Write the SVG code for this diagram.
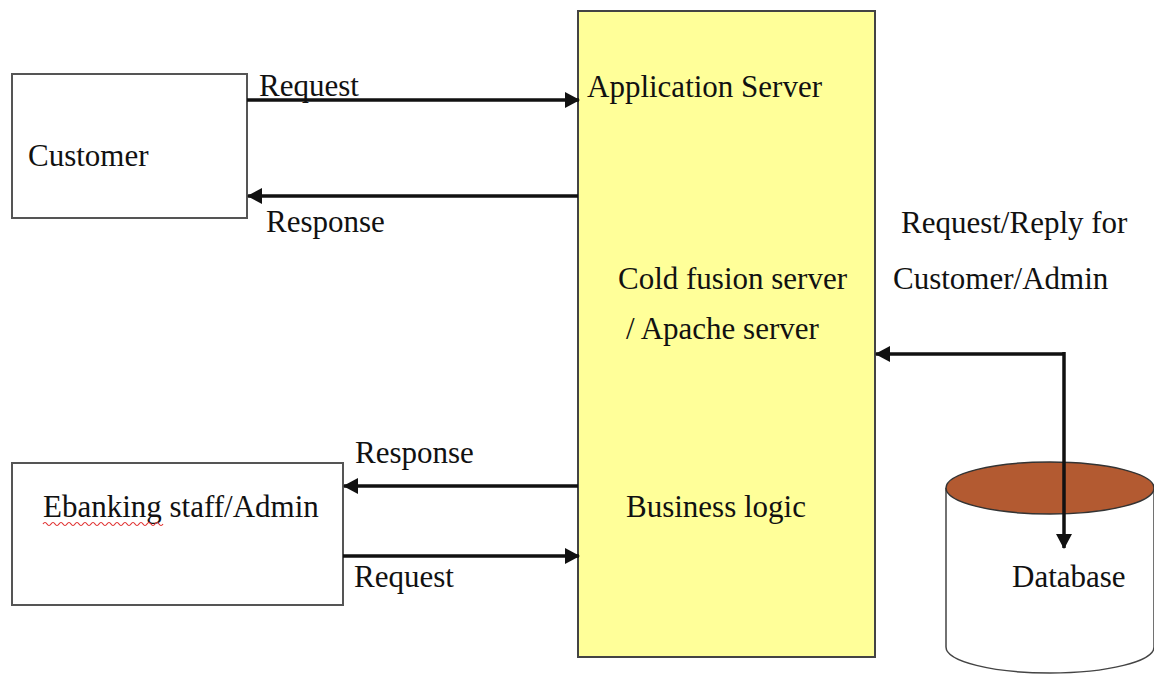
<svg xmlns="http://www.w3.org/2000/svg" width="1154" height="674" viewBox="0 0 1154 674">
<style>
  .box{fill:#fff;stroke:#555;stroke-width:2}
  .lbl{font-family:"Liberation Serif","Times New Roman",serif;font-size:31px;fill:#111}
  .con{stroke:#111;stroke-width:3.5;fill:none}
</style>
<defs>
  <marker id="ah" viewBox="0 0 15 16" refX="14" refY="8" markerWidth="15" markerHeight="16" markerUnits="userSpaceOnUse" orient="auto">
    <path d="M0,0 L15,8 L0,16 Z" fill="#111"/>
  </marker>
</defs>
<rect width="1154" height="674" fill="#fff"/>
<g id="app-server">
  <rect x="578" y="11" width="297" height="646" fill="#FFFF99" stroke="#444" stroke-width="2"/>
  <text class="lbl" x="587" y="97">Application Server</text>
  <text class="lbl" x="618" y="289">Cold fusion server</text>
  <text class="lbl" x="626" y="339">/ Apache server</text>
  <text class="lbl" x="626" y="517">Business logic</text>
</g>
<g id="customer">
  <rect class="box" x="12" y="74" width="235" height="144"/>
  <text class="lbl" x="28" y="166">Customer</text>
</g>
<g id="staff">
  <rect class="box" x="12" y="463" width="331" height="142"/>
  <text class="lbl" x="43" y="517">Ebanking staff/Admin</text>
  <path d="M43,524 q2,-3 4,0 t4,0 t4,0 t4,0 t4,0 t4,0 t4,0 t4,0 t4,0 t4,0 t4,0 t4,0 t4,0 t4,0 t4,0 t4,0 t4,0 t4,0 t4,0 t4,0 t4,0 t4,0 t4,0 t4,0 t4,0 t4,0 t4,0 t4,0 t4,0 t4,0" fill="none" stroke="#e03030" stroke-width="1.2"/>
</g>
<g id="database">
  <path d="M946,488 L946,647 A104,26 0 0 0 1154,647 L1154,488" fill="#fff" stroke="#444" stroke-width="1.5"/>
  <ellipse cx="1050" cy="488" rx="104" ry="26" fill="#B35A31" stroke="#333" stroke-width="1.5"/>
  <text class="lbl" x="1012" y="587">Database</text>
</g>
<g id="connectors">
  <line class="con" x1="247" y1="100" x2="579" y2="100" marker-end="url(#ah)"/>
  <line class="con" x1="578" y1="196" x2="248" y2="196" marker-end="url(#ah)"/>
  <line class="con" x1="578" y1="486" x2="344" y2="486" marker-end="url(#ah)"/>
  <line class="con" x1="343" y1="556" x2="579" y2="556" marker-end="url(#ah)"/>
  <line class="con" x1="1065" y1="354" x2="876" y2="354" marker-end="url(#ah)"/>
  <line class="con" x1="1064" y1="352" x2="1064" y2="548" marker-end="url(#ah)"/>
  <text class="lbl" x="259" y="96">Request</text>
  <text class="lbl" x="266" y="232">Response</text>
  <text class="lbl" x="355" y="463">Response</text>
  <text class="lbl" x="354" y="587">Request</text>
  <text class="lbl" x="901" y="233">Request/Reply for</text>
  <text class="lbl" x="893" y="289">Customer/Admin</text>
</g>
</svg>
